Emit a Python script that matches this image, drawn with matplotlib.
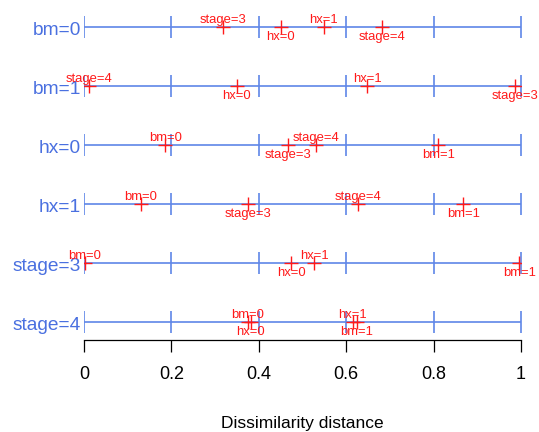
import matplotlib
matplotlib.use("Agg")
import matplotlib.pyplot as plt
import numpy as np

plt.rcParams['font.family'] = ['Liberation Sans', 'DejaVu Sans']

# ---- data ----
row_labels = ['bm=0', 'bm=1', 'hx=0', 'hx=1', 'stage=3', 'stage=4']
point_labels = [
    ['stage=3', 'hx=0', 'hx=1', 'stage=4'],
    ['stage=4', 'hx=0', 'hx=1', 'stage=3'],
    ['bm=0', 'stage=3', 'stage=4', 'bm=1'],
    ['bm=0', 'stage=3', 'stage=4', 'bm=1'],
    ['bm=0', 'hx=0', 'hx=1', 'bm=1'],
    ['bm=0', 'hx=0', 'hx=1', 'bm=1'],
]
point_values = [
    [0.319, 0.450, 0.549, 0.681],
    [0.012, 0.349, 0.648, 0.986],
    [0.186, 0.466, 0.531, 0.811],
    [0.130, 0.375, 0.626, 0.868],
    [0.002, 0.474, 0.527, 0.996],
    [0.375, 0.382, 0.615, 0.624],
]
x_ticks = [0, 0.2, 0.4, 0.6, 0.8, 1]
x_tick_labels = ['0', '0.2', '0.4', '0.6', '0.8', '1']
x_label = 'Dissimilarity distance'

BLUE_LINE = '#5F86E8'
BLUE_TEXT = '#4A70E0'
RED = '#FF1A1A'

W, H, DPI = 539, 432, 100
fig = plt.figure(figsize=(W / DPI, H / DPI), dpi=DPI)

# axes: x 0->1 spans px 84..521 ; bottom at px 340, top at px 0
left_px, right_px = 84, 521
bottom_px, top_px = 340, 0
ax = fig.add_axes([left_px / W, 1 - bottom_px / H,
                   (right_px - left_px) / W, (bottom_px - top_px) / H])
row_gap = 59.0
first_row_px = 27.0
ax.set_xlim(0, 1)
ax.set_ylim((bottom_px - first_row_px) / row_gap, (top_px - first_row_px) / row_gap)

for k, name in enumerate(row_labels):
    ax.plot([0, 1], [k, k], color=BLUE_LINE, lw=1.2, solid_capstyle='butt', zorder=1)
    ax.plot(x_ticks, [k] * len(x_ticks), ls='none', marker='|', color=BLUE_LINE,
            markersize=16.5, mew=1.2, zorder=1)
    ax.annotate(name, xy=(0, k), xytext=(-3, -8), textcoords='offset pixels',
                ha='right', va='baseline', color=BLUE_TEXT, fontsize=13.8,
                annotation_clip=False)
    vals = point_values[k]
    labs = point_labels[k]
    ax.plot(vals, [k] * len(vals), ls='none', marker='+', color=RED,
            markersize=9.5, mew=1.0, zorder=3)
    order = np.argsort(vals)
    for j, idx in enumerate(order):
        dy = 4 if j % 2 == 0 else -13
        ax.annotate(labs[idx], xy=(vals[idx], k), xytext=(0, dy),
                    textcoords='offset pixels', ha='center', va='baseline',
                    color=RED, fontsize=9.4, annotation_clip=False, zorder=4)

for s in ['top', 'right', 'left']:
    ax.spines[s].set_visible(False)
ax.spines['bottom'].set_linewidth(0.9)
ax.set_yticks([])
ax.set_xticks(x_ticks)
ax.set_xticklabels(x_tick_labels, fontsize=13)
ax.tick_params(axis='x', direction='out', length=8.4, width=0.9, pad=10)
ax.set_xlabel(x_label, fontsize=12.5, labelpad=24)
ax.patch.set_visible(False)

fig.savefig('out.png', dpi=DPI)
